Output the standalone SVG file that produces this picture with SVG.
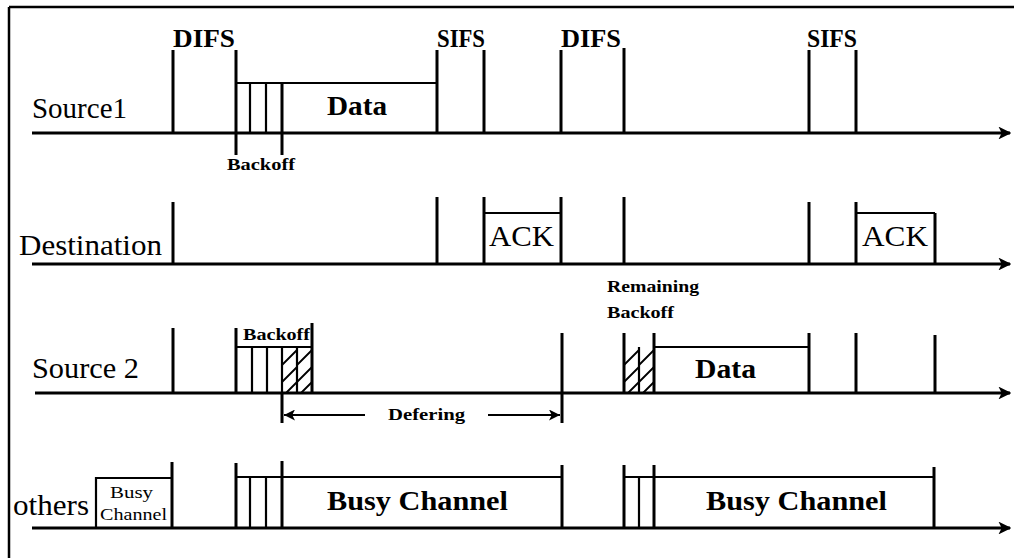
<svg xmlns="http://www.w3.org/2000/svg" width="1014" height="558" viewBox="0 0 1014 558">
<defs>
<style>
.ax{stroke:#000;stroke-width:3.2;fill:none}
.v{stroke:#000;stroke-width:3;fill:none}
.b{stroke:#000;stroke-width:2.2;fill:none}
.h{stroke:#000;stroke-width:1.8;fill:none}
.lbl{font-family:"Liberation Serif","Times New Roman",serif;font-size:29px;fill:#000}
.ifs{font-family:"Liberation Serif","Times New Roman",serif;font-size:25px;font-weight:bold;fill:#000}
.big{font-family:"Liberation Serif","Times New Roman",serif;font-size:27px;font-weight:bold;fill:#000}
.ack{font-family:"Liberation Serif","Times New Roman",serif;font-size:30px;fill:#000}
.sm{font-family:"Liberation Serif","Times New Roman",serif;font-size:16px;font-weight:bold;fill:#000}
.sb{font-family:"Liberation Serif","Times New Roman",serif;font-size:17px;fill:#000}
</style>
<marker id="ah" viewBox="0 0 10 10" refX="9" refY="5" markerWidth="4" markerHeight="4" orient="auto" markerUnits="strokeWidth">
<path d="M0,0 L10,5 L0,10 L2.5,5 Z" fill="#000"/>
</marker>
<marker id="dh" viewBox="0 0 10 10" refX="10" refY="5" markerWidth="5" markerHeight="5" orient="auto" markerUnits="strokeWidth">
<path d="M0,0 L10,5 L0,10 L2.5,5 Z" fill="#000"/>
</marker>
</defs>
<rect width="1014" height="558" fill="#fff"/>
<g id="frame">
<path d="M9,7 H1014 M9,7 V558" stroke="#000" stroke-width="2.5" fill="none"/>
</g>
<g id="connectors">
<line class="ax" x1="32" y1="133" x2="1010" y2="133" marker-end="url(#ah)"/>
<line class="ax" x1="32" y1="264" x2="1010" y2="264" marker-end="url(#ah)"/>
<line class="ax" x1="35" y1="393" x2="1010" y2="393" marker-end="url(#ah)"/>
<line class="ax" x1="32" y1="528" x2="1010" y2="528" marker-end="url(#ah)"/>
</g>
<g id="source1">
<text class="lbl" x="32" y="118" textLength="95" lengthAdjust="spacingAndGlyphs">Source1</text>
<text class="ifs" x="173" y="47" textLength="62" lengthAdjust="spacingAndGlyphs">DIFS</text>
<text class="ifs" x="437" y="47" textLength="48" lengthAdjust="spacingAndGlyphs">SIFS</text>
<text class="ifs" x="561" y="47" textLength="60" lengthAdjust="spacingAndGlyphs">DIFS</text>
<text class="ifs" x="807" y="47" textLength="50" lengthAdjust="spacingAndGlyphs">SIFS</text>
<path class="v" d="M173,50 V133 M236,50 V155 M437,50 V133 M484,50 V133 M561,50 V133 M624,48 V133 M809,50 V133 M856,50 V133 M282,83 V155"/>
<path class="b" d="M236,83 H437 M250,83 V133 M266,83 V133"/>
<text class="big" x="327" y="115" textLength="60" lengthAdjust="spacingAndGlyphs">Data</text>
<text class="sm" x="227" y="170" textLength="68" lengthAdjust="spacingAndGlyphs">Backoff</text>
</g>
<g id="destination">
<text class="lbl" x="19" y="255" textLength="143" lengthAdjust="spacingAndGlyphs">Destination</text>
<path class="v" d="M173,202 V264 M437,197 V264 M484,197 V264 M561,197 V264 M624,197 V264 M809,202 V264 M856,202 V264 M935,213 V264"/>
<path class="b" d="M484,213 H561 M856,213 H935"/>
<text class="ack" x="489" y="246" textLength="65" lengthAdjust="spacingAndGlyphs">ACK</text>
<text class="ack" x="862" y="246" textLength="66" lengthAdjust="spacingAndGlyphs">ACK</text>
</g>
<g id="source2">
<text class="lbl" x="32" y="378" textLength="107" lengthAdjust="spacingAndGlyphs">Source 2</text>
<path class="v" d="M173,328 V393 M236,328 V393 M312,323 V393 M562,333 V393 M624,333 V393 M654,333 V393 M809,333 V393 M856,333 V393 M935,335 V393"/>
<path class="b" d="M236,347 H312 M252,347 V393 M267,347 V393 M282,347 V393 M297,347 V393 M654,347 H809 M639,347 V393"/>
<path class="h" d="M282,365 L297,350 M282,382 L297,367 M286,393 L297,382 M297,365 L312,350 M297,382 L312,367 M301,393 L312,382 M624,365 L639,350 M624,382 L639,367 M628,393 L639,382 M639,365 L654,350 M639,382 L654,367 M643,393 L654,382"/>
<text class="sm" x="243" y="340" textLength="67" lengthAdjust="spacingAndGlyphs">Backoff</text>
<text class="big" x="695" y="378" textLength="61" lengthAdjust="spacingAndGlyphs">Data</text>
<text class="sm" x="607" y="292" textLength="92" lengthAdjust="spacingAndGlyphs">Remaining</text>
<text class="sm" x="607" y="318" textLength="67" lengthAdjust="spacingAndGlyphs">Backoff</text>
</g>
<g id="defering">
<path class="v" d="M282,393 V423 M562,393 V423"/>
<line class="b" x1="365" y1="415" x2="284" y2="415" marker-end="url(#dh)"/>
<line class="b" x1="488" y1="415" x2="560" y2="415" marker-end="url(#dh)"/>
<text class="sm" x="388" y="420" font-size="18" textLength="77" lengthAdjust="spacingAndGlyphs">Defering</text>
</g>
<g id="others">
<text class="lbl" x="13" y="515" font-size="30" textLength="76" lengthAdjust="spacingAndGlyphs">others</text>
<path class="b" d="M96,528 V478 H172"/>
<text class="sb" x="110" y="498" textLength="43" lengthAdjust="spacingAndGlyphs">Busy</text>
<text class="sb" x="100" y="520" textLength="67" lengthAdjust="spacingAndGlyphs">Channel</text>
<path class="v" d="M172,462 V528 M236,463 V528 M282,461 V528 M562,465 V528 M624,465 V528 M654,465 V528 M934,467 V528"/>
<path class="b" d="M236,477 H562 M250,477 V528 M266,477 V528 M624,477 H934 M639,477 V528"/>
<text class="big" x="327" y="510" textLength="181" lengthAdjust="spacingAndGlyphs">Busy Channel</text>
<text class="big" x="706" y="510" textLength="181" lengthAdjust="spacingAndGlyphs">Busy Channel</text>
</g>
</svg>
